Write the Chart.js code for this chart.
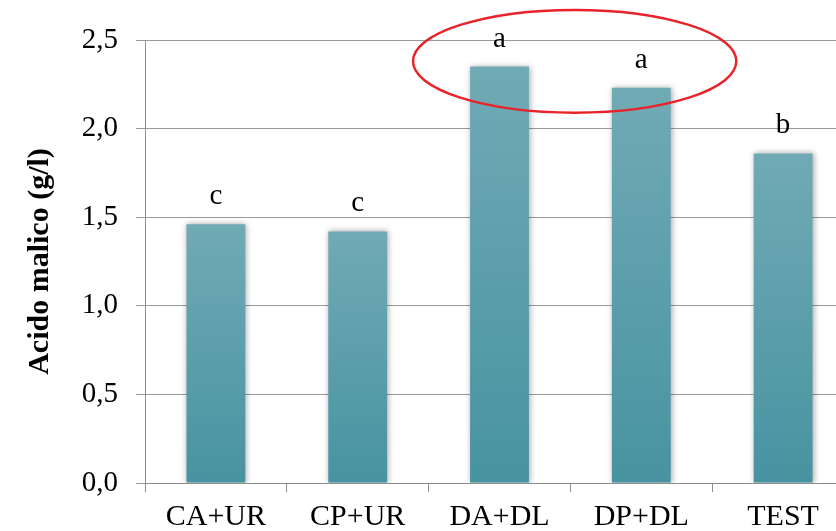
<!DOCTYPE html>
<html>
<head>
<meta charset="utf-8">
<script src="https://cdn.jsdelivr.net/npm/chart.js@4/dist/chart.umd.min.js"></script>
<style>
  html, body { margin: 0; padding: 0; background: #fff; overflow: hidden; }
  #wrap { width: 870px; height: 531px; position: relative; }
</style>
</head>
<body>
<div id="wrap"><canvas id="myChart"></canvas></div>
<script>
// data
var treatments = ["CA+UR", "CP+UR", "DA+DL", "DP+DL", "TEST"];
var malic = [1.46, 1.42, 2.35, 2.23, 1.86];
var letters = ["c", "c", "a", "a", "b"];
var yTicks = [0, 0.5, 1.0, 1.5, 2.0, 2.5];

var serif = "'Liberation Serif', 'Times New Roman', serif";

// shadow + letters above bars + red ellipse
var extras = {
  id: 'extras',
  beforeDatasetsDraw: function(chart) {
    var ctx = chart.ctx;
    ctx.save();
    ctx.shadowColor = 'rgba(0,0,0,0.35)';
    ctx.shadowBlur = 6;
    ctx.shadowOffsetX = 1;
  },
  afterDatasetsDraw: function(chart) {
    var ctx = chart.ctx;
    ctx.restore();
    var meta = chart.getDatasetMeta(0);
    ctx.save();
    ctx.font = "29px " + serif;
    ctx.fillStyle = "#000";
    ctx.textAlign = "center";
    ctx.textBaseline = "alphabetic";
    meta.data.forEach(function(bar, i) {
      ctx.fillText(letters[i], bar.x, bar.y - 20);
    });
    ctx.restore();
  },
  afterDraw: function(chart) {
    var x = chart.scales.x, y = chart.scales.y, ctx = chart.ctx;
    var cx = x.getPixelForValue(2.53);
    var rx = x.getPixelForValue(2.53 + 1.14) - cx;
    var cy = y.getPixelForValue(2.38);
    var ry = y.getPixelForValue(2.38 - 0.29) - cy;
    ctx.save();
    ctx.beginPath();
    ctx.ellipse(cx, cy, rx, ry, 0, 0, Math.PI * 2);
    ctx.strokeStyle = "#e8242a";
    ctx.lineWidth = 2.5;
    ctx.stroke();
    ctx.restore();
  }
};

var ctx = document.getElementById("myChart");
var myChart = new Chart(ctx, {
  type: 'bar',
  data: {
    labels: treatments,
    datasets: [{
      data: malic,
      backgroundColor: function(c) {
        var chart = c.chart;
        if (!chart.chartArea || c.dataIndex === undefined) return "#5aa0ad";
        var ys = chart.scales.y;
        var top = ys.getPixelForValue(malic[c.dataIndex]);
        var bottom = ys.getPixelForValue(0);
        var g = chart.ctx.createLinearGradient(0, top, 0, bottom);
        g.addColorStop(0, "#70aab5");
        g.addColorStop(1, "#4893a1");
        return g;
      },
      borderWidth: 0,
      categoryPercentage: 0.415,
      barPercentage: 1
    }]
  },
  options: {
    responsive: true,
    maintainAspectRatio: false,
    animation: false,
    layout: { padding: { top: 40, right: 16, left: 0, bottom: 0 } },
    plugins: {
      legend: { display: false },
      tooltip: { enabled: false }
    },
    scales: {
      x: {
        grid: { drawOnChartArea: false, drawTicks: true, tickLength: 9, color: "#8c8c8c" },
        border: { color: "#8c8c8c" },
        ticks: { font: { family: serif, size: 30 }, color: "#000", padding: 7 },
        afterFit: function(s) { s.height = 48; }
      },
      y: {
        min: 0,
        max: 2.5,
        afterBuildTicks: function(s) {
          s.ticks = yTicks.map(function(v) { return { value: v }; });
        },
        grid: { color: "#9a9a9a", tickLength: 9 },
        border: { color: "#8c8c8c" },
        ticks: {
          font: { family: serif, size: 29 },
          color: "#000",
          padding: 18,
          callback: function(v) { return v.toFixed(1).replace(".", ","); }
        },
        title: {
          display: true,
          text: "Acido malico (g/l)",
          font: { family: serif, size: 30, weight: "bold" },
          color: "#000",
          padding: { top: 22, bottom: 0 }
        },
        afterFit: function(s) { s.width = 145; }
      }
    }
  },
  plugins: [extras]
});
</script>
</body>
</html>
